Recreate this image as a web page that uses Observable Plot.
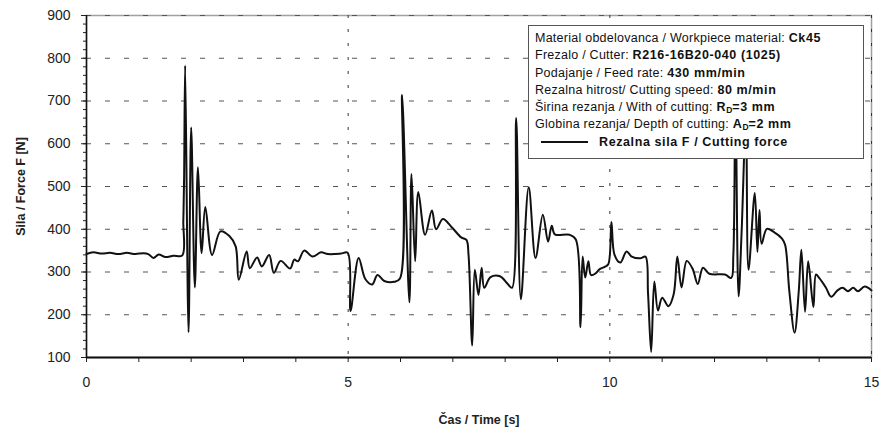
<!DOCTYPE html>
<html><head><meta charset="utf-8">
<script src="https://cdn.jsdelivr.net/npm/d3@7"></script>
<script src="https://cdn.jsdelivr.net/npm/@observablehq/plot@0.6"></script>
<style>
body{margin:0;background:#fff;}
#wrap{position:relative;width:883px;height:435px;font-family:"Liberation Sans",Arial,sans-serif;}
#legend{position:absolute;left:528px;top:25px;width:336px;height:134px;background:#fff;border:1px solid #555;box-sizing:border-box;font-size:12.5px;color:#111;padding-top:4px;letter-spacing:0.25px;}
#legend .row{height:17.3px;line-height:17.3px;padding-left:6px;white-space:nowrap;}
#legend b{letter-spacing:0.6px;}
#legend sub{font-size:8.5px;vertical-align:-2px;line-height:0;letter-spacing:0;}
#legend .key{display:inline-block;width:47px;height:0;border-top:2px solid #111;vertical-align:middle;margin:0 11px 0 6px;}
</style></head>
<body><div id="wrap"></div>
<script>
const time = [0.00,0.13,0.29,0.45,0.61,0.77,0.93,1.09,1.18,1.28,1.38,1.50,1.66,1.83,1.85,1.865,1.885,1.95,2.00,2.07,2.13,2.20,2.27,2.40,2.56,2.73,2.85,2.91,3.06,3.12,3.26,3.35,3.49,3.58,3.71,3.89,3.97,4.04,4.16,4.32,4.48,4.61,4.86,4.99,5.045,5.20,5.33,5.46,5.56,5.69,5.88,5.99,6.03,6.17,6.21,6.28,6.34,6.47,6.60,6.68,6.81,6.97,7.16,7.26,7.30,7.37,7.42,7.49,7.55,7.60,7.72,7.90,8.05,8.13,8.21,8.30,8.45,8.58,8.72,8.82,8.89,8.95,9.23,9.35,9.44,9.48,9.53,9.59,9.64,9.72,9.80,9.90,9.97,10.03,10.09,10.20,10.32,10.42,10.58,10.68,10.73,10.79,10.85,10.92,11.00,11.12,11.22,11.29,11.37,11.47,11.58,11.68,11.78,11.90,12.20,12.32,12.36,12.40,12.46,12.52,12.60,12.65,12.77,12.82,12.86,12.90,13.00,13.13,13.29,13.35,13.43,13.53,13.61,13.66,13.73,13.79,13.89,13.94,14.00,14.13,14.23,14.35,14.45,14.55,14.65,14.74,14.87,15.00];
const force = [342,346,343,345,342,345,342,344,342,333,341,335,338,339,420,520,783,159,638,264,545,344,452,340,395,384,360,282,348,309,334,313,340,298,326,308,329,325,350,336,346,342,343,345,209,333,283,271,293,279,277,285,714,229,529,325,487,387,444,400,424,406,381,375,340,128,305,246,310,263,288,290,272,263,660,236,498,333,434,371,408,388,387,376,171,336,287,325,293,296,306,312,318,417,340,322,348,336,332,336,250,113,278,210,240,220,248,336,264,326,308,272,310,296,294,286,340,720,243,400,660,305,485,347,445,366,401,394,378,363,255,158,255,352,207,325,218,294,286,263,242,257,263,255,263,255,266,257];
const xDomain = [0, 15];
const yDomain = [100, 900];
const xTicks = d3.range(0, 16, 1);
const xTickLabels = [0, 5, 10, 15];
const yTicks = [100, 200, 300, 400, 500, 600, 700, 800, 900];
const yMinorTicks = d3.range(100, 901, 20);
const gridYValues = [200, 300, 400, 500, 600, 700, 800, 900];
const gridXValues = [5, 10, 15];
const xTitle = "Čas / Time [s]";
const yTitle = "Sila / Force F [N]";

const data = time.map((t, i) => ({t, f: force[i]}));

const chart = Plot.plot({
  width: 883, height: 435,
  marginLeft: 86, marginRight: 12, marginTop: 15, marginBottom: 78,
  x: {domain: xDomain},
  y: {domain: yDomain},
  style: {fontFamily: "Liberation Sans, Arial, sans-serif", fontSize: "14px", color: "#222", background: "#fff"},
  marks: [
    Plot.frame({stroke: "#a0a0a0", strokeWidth: 1.5}),
    Plot.gridY(gridYValues, {stroke: "#555", strokeOpacity: 1, strokeDasharray: "5,14"}),
    Plot.gridX(gridXValues, {stroke: "#333", strokeOpacity: 1, strokeDasharray: "3,11"}),
    Plot.line(data, {x: "t", y: "f", stroke: "#111", strokeWidth: 2, curve: "catmull-rom"}),
    Plot.axisY({ticks: yMinorTicks, tickSize: 3, tickFormat: () => "", label: null}),
    Plot.axisY({ticks: yTicks, tickSize: 5, tickPadding: 11, label: null, fontSize: 14, style: {letterSpacing: "0.8px"}}),
    Plot.axisX({ticks: xTicks, tickSize: 5, tickPadding: 15, label: null, fontSize: 14,
      tickFormat: d => xTickLabels.includes(d) ? String(d) : ""}),
    Plot.ruleX([xDomain[0]], {stroke: "#111", strokeWidth: 1.5}),
    Plot.ruleY([yDomain[0]], {stroke: "#111", strokeWidth: 2}),
    Plot.text([yTitle], {frameAnchor: "left", dx: -66, rotate: -90, textAnchor: "middle", fontWeight: "bold", fontSize: 12.5}),
    Plot.text([xTitle], {frameAnchor: "bottom", dy: 66, textAnchor: "middle", fontWeight: "bold", fontSize: 12.5})
  ]
});
const wrap = document.getElementById("wrap");
wrap.appendChild(chart);

const legend = document.createElement("div");
legend.id = "legend";
legend.innerHTML = `
<div class="row">Material obdelovanca / Workpiece material: <b>Ck45</b></div>
<div class="row">Frezalo / Cutter: <b>R216-16B20-040 (1025)</b></div>
<div class="row">Podajanje / Feed rate: <b>430 mm/min</b></div>
<div class="row">Rezalna hitrost/ Cutting speed: <b>80 m/min</b></div>
<div class="row">Širina rezanja / With of cutting: <b>R<sub>D</sub>=3 mm</b></div>
<div class="row">Globina rezanja/ Depth of cutting: <b>A<sub>D</sub>=2 mm</b></div>
<div class="row"><span class="key"></span><b>Rezalna sila F / Cutting force</b></div>`;
wrap.appendChild(legend);
</script>
</body></html>
